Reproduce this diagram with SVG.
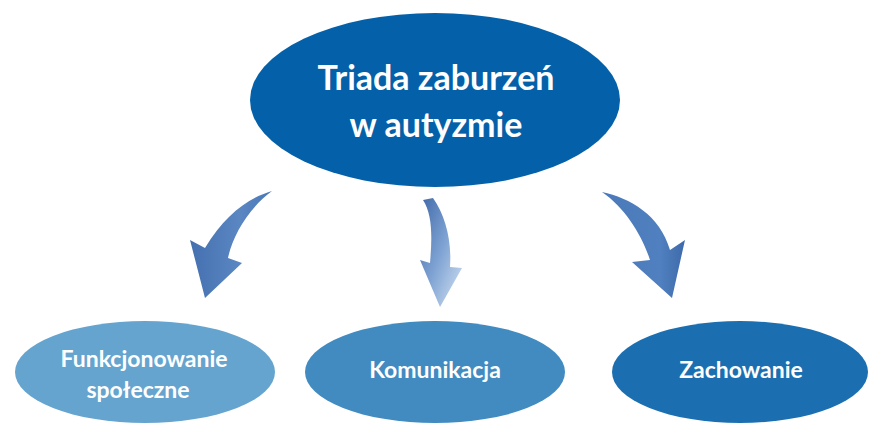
<svg xmlns="http://www.w3.org/2000/svg" width="869" height="425" viewBox="0 0 869 425">
<defs>
<style>
.t{font-family:Lato,"Open Sans","Liberation Sans",sans-serif;font-weight:bold;fill:#fff;text-anchor:middle}
</style>
<linearGradient id="gL" x1="0" y1="0" x2="1" y2="0">
<stop offset="0" stop-color="#4470b0"/><stop offset="0.6" stop-color="#5a86c2"/><stop offset="1" stop-color="#4a78b8"/>
</linearGradient>
<linearGradient id="gM" x1="0" y1="0" x2="1" y2="1">
<stop offset="0" stop-color="#3f68a8"/><stop offset="0.5" stop-color="#7fa3d3"/><stop offset="1" stop-color="#d6e4f4"/>
</linearGradient>
<linearGradient id="gR" x1="0" y1="0" x2="1" y2="0">
<stop offset="0" stop-color="#4b79b9"/><stop offset="0.7" stop-color="#5080bf"/><stop offset="1" stop-color="#3e6aaa"/>
</linearGradient>
</defs>
<rect width="869" height="425" fill="#fff"/>
<g id="connectors">
<path d="M272,191 C248,198 225,215 205,248 L190,240 L205,298 L242,263 L228,258 C233,234 250,207 272,191 Z" fill="url(#gL)"/>
<path d="M423,200 C433,215 432,240 430,263 L420,260 L440,307 L462,268 L450,267 C452,240 445,215 433,198 Z" fill="url(#gM)"/>
<path d="M602,192 C630,198 660,215 670,250 L685,240 L672,298 L632,262 L650,260 C642,235 625,208 602,192 Z" fill="url(#gR)"/>
</g>
<g id="top">
<ellipse cx="435" cy="100" rx="185" ry="87" fill="#0461a9"/>
<text class="t" x="436" y="90" font-size="34">Triada zaburzeń</text>
<text class="t" x="436" y="137" font-size="34">w autyzmie</text>
</g>
<g id="n1">
<ellipse cx="145" cy="372" rx="130" ry="51" fill="#65a4cf"/>
<text class="t" x="144" y="367" font-size="23">Funkcjonowanie</text>
<text class="t" x="138" y="398" font-size="23">społeczne</text>
</g>
<g id="n2">
<ellipse cx="435" cy="372" rx="130" ry="51" fill="#418bc1"/>
<text class="t" x="435" y="378" font-size="23">Komunikacja</text>
</g>
<g id="n3">
<ellipse cx="740" cy="372" rx="128" ry="51" fill="#1b6fb1"/>
<text class="t" x="741" y="378" font-size="23">Zachowanie</text>
</g>
</svg>
